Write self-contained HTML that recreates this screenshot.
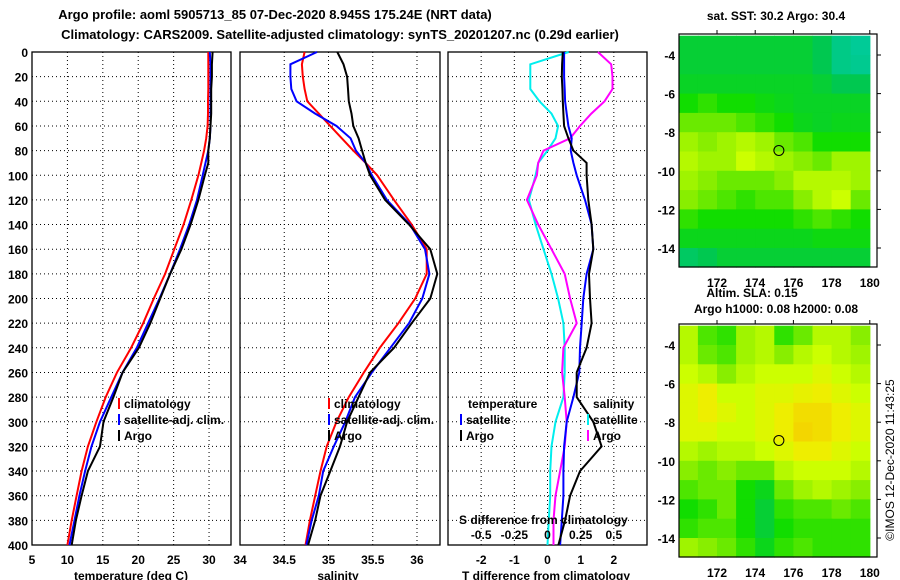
<!DOCTYPE html>
<html><head><meta charset="utf-8">
<style>
html,body{margin:0;padding:0;background:#fff;}
svg{display:block;font-family:"Liberation Sans",sans-serif;font-weight:bold;}
</style></head>
<body>
<svg id="c" width="900" height="580" viewBox="0 0 900 580" xmlns="http://www.w3.org/2000/svg">
<text x="275" y="19" font-size="13" text-anchor="middle">Argo profile: aoml 5905713_85 07-Dec-2020 8.945S 175.24E (NRT data)</text>
<text x="340" y="39" font-size="13" text-anchor="middle">Climatology: CARS2009. Satellite-adjusted climatology: synTS_20201207.nc (0.29d earlier)</text>
<text x="776" y="20" font-size="12" text-anchor="middle">sat. SST: 30.2 Argo: 30.4</text>
<text x="752" y="297" font-size="12" text-anchor="middle">Altim. SLA: 0.15</text>
<text x="776" y="313" font-size="12" text-anchor="middle">Argo h1000: 0.08 h2000: 0.08</text>
<text transform="translate(894,460) rotate(-90)" font-size="12" font-weight="normal" text-anchor="middle">©IMOS 12-Dec-2020 11:43:25</text>
</svg>
<script>
// depth levels (dbar)
const depths=[0,10,20,30,40,50,60,70,80,90,100,120,140,160,180,200,220,240,260,280,300,320,340,360,380,400];
const tempClim=[29.9,29.9,29.9,29.9,29.85,29.85,29.8,29.6,29.3,28.9,28.5,27.5,26.4,25.1,23.8,22.2,20.7,19.0,17.0,15.4,14.1,12.9,12.0,11.3,10.6,10.0];
const tempSat=[30.1,30.2,30.2,30.2,30.2,30.2,30.2,30.1,29.9,29.5,29.1,28.3,27.2,25.9,24.5,23.0,21.4,19.8,17.8,16.2,14.6,13.4,12.5,11.7,11.0,10.3];
const tempArgo=[30.5,30.4,30.4,30.3,30.3,30.3,30.2,30.1,29.9,29.9,29.4,28.5,27.4,26.1,24.5,23.1,21.7,20.1,17.8,16.5,15.1,14.6,12.9,12.0,11.2,10.6];
const salClim=[34.73,34.70,34.71,34.73,34.76,34.89,35.02,35.15,35.28,35.42,35.55,35.74,35.94,36.11,36.11,35.98,35.79,35.58,35.40,35.23,35.09,34.98,34.91,34.85,34.79,34.74];
const salSat=[34.87,34.57,34.57,34.58,34.64,34.85,35.09,35.25,35.31,35.42,35.49,35.66,35.92,36.09,36.14,36.06,35.91,35.70,35.49,35.30,35.19,35.06,34.94,34.89,34.81,34.75];
const salArgo=[35.10,35.17,35.21,35.22,35.23,35.26,35.28,35.34,35.38,35.42,35.47,35.64,35.91,36.15,36.23,36.15,35.94,35.74,35.47,35.34,35.21,35.13,35.02,34.91,34.85,34.77];
// differences (T in deg C; S on its own axis)
const dTSat=[0.5,0.5,0.5,0.52,0.53,0.58,0.63,0.73,0.7,0.78,0.88,1.13,1.33,1.38,1.18,1.08,1.03,0.98,0.96,0.78,0.58,0.5,0.48,0.48,0.43,0.38];
const dTArgo=[0.46,0.44,0.43,0.45,0.46,0.48,0.5,0.63,0.78,1.18,1.18,1.23,1.33,1.38,1.25,1.28,1.33,1.18,0.88,0.88,1.38,1.63,0.98,0.68,0.53,0.33];
const dSSat=[0.16,-0.13,-0.13,-0.13,-0.06,0.03,0.08,0.06,0.0,-0.07,-0.09,-0.14,-0.09,-0.03,0.03,0.08,0.12,0.13,0.13,0.12,0.06,0.03,0.02,0.02,0.01,0.0];
const dSArgo=[0.38,0.48,0.49,0.49,0.43,0.33,0.245,0.17,-0.03,-0.07,-0.08,-0.155,-0.07,0.03,0.13,0.17,0.22,0.12,0.11,0.13,0.145,0.13,0.095,0.06,0.045,0.045];
const depthTicks=[0,20,40,60,80,100,120,140,160,180,200,220,240,260,280,300,320,340,360,380,400];
const tempTicks=[5,10,15,20,25,30];
const salTicks=[34,34.5,35,35.5,36];
const dTTicks=[-2,-1,0,1,2];
const dSTicks=[-0.5,-0.25,0,0.25,0.5];
const dSLabels=["-0.5","-0.25","0","0.25","0.5"];
// map grids (normalized 0..1 colour index), rows lat -3..-15, cols lon 170..180
const sstGrid=[
[.35,.35,.35,.35,.35,.35,.35,.3,.15,.1],
[.35,.35,.35,.35,.35,.35,.35,.3,.15,.12],
[.38,.38,.38,.38,.38,.38,.38,.35,.3,.3],
[.45,.5,.45,.45,.42,.4,.38,.38,.38,.38],
[.6,.6,.6,.55,.5,.45,.4,.38,.4,.4],
[.7,.65,.7,.75,.7,.6,.55,.45,.45,.45],
[.75,.7,.7,.8,.75,.7,.65,.6,.7,.7],
[.7,.65,.6,.6,.6,.65,.75,.75,.75,.7],
[.65,.6,.55,.5,.55,.55,.65,.75,.8,.6],
[.5,.45,.45,.45,.45,.45,.5,.55,.5,.45],
[.4,.4,.4,.4,.4,.4,.4,.42,.42,.42],
[.25,.3,.35,.35,.35,.35,.35,.35,.35,.35]];
const slaGrid=[
[.75,.55,.5,.7,.75,.5,.6,.75,.75,.65],
[.75,.6,.55,.7,.75,.65,.75,.8,.75,.7],
[.8,.75,.65,.75,.8,.8,.8,.85,.8,.75],
[.85,.9,.8,.8,.85,.85,.88,.9,.85,.8],
[.85,.9,.85,.8,.85,.9,.95,.95,.9,.85],
[.85,.85,.8,.8,.85,.9,.97,.95,.9,.85],
[.75,.7,.75,.75,.8,.85,.9,.9,.85,.8],
[.65,.6,.65,.6,.6,.75,.8,.8,.8,.75],
[.55,.6,.6,.45,.4,.6,.7,.75,.7,.65],
[.45,.5,.6,.45,.35,.5,.55,.55,.6,.55],
[.5,.55,.55,.45,.35,.45,.5,.5,.5,.5],
[.7,.65,.6,.5,.4,.5,.55,.5,.5,.5]];
const lonTicks=[172,174,176,178,180];
const latTicks=[-4,-6,-8,-10,-12,-14];
const argoLon=175.24, argoLat=-8.945;

const svg=document.getElementById('c');
const NS='http://www.w3.org/2000/svg';
function mk(tag,attrs,parent){const e=document.createElementNS(NS,tag);for(const k in attrs)e.setAttribute(k,attrs[k]);(parent||svg).appendChild(e);return e;}
function txt(x,y,s,size,anchor,parent){const t=mk('text',{x:x,y:y,'font-size':size,'text-anchor':anchor||'middle'},parent);t.textContent=s;return t;}

const Y0=52,Y1=545;
const yD=d=>Y0+(d/400)*(Y1-Y0);
const panels=[
 {x0:32,x1:231,min:5,max:33.1,ticks:tempTicks,name:'temperature'},
 {x0:240,x1:440,min:34,max:36.26,ticks:salTicks,name:'salinity'},
 {x0:448,x1:647,min:-3,max:3,ticks:dTTicks,name:'difference'}];
panels.forEach(p=>{p.f=v=>p.x0+(v-p.min)/(p.max-p.min)*(p.x1-p.x0);});
const xS=v=>panels[2].f(v*4);

panels.forEach((p,i)=>{
  const g=mk('g',{});
  
  
  depthTicks.forEach(d=>{if(d>0&&d<400){const l=mk('line',{x1:p.x0,x2:p.x1,y1:yD(d),y2:yD(d),stroke:'#000','stroke-width':1,'stroke-dasharray':'1,3'},g);}});
  p.ticks.forEach(v=>{const x=p.f(v);if(x>p.x0+1&&x<p.x1-1){const l=mk('line',{x1:x,x2:x,y1:Y0,y2:Y1,stroke:'#000','stroke-width':1,'stroke-dasharray':'1,3'},g);}
    const t=txt(x,564,String(v),12,'middle',g);});
  const r=mk('rect',{x:p.x0,y:Y0,width:p.x1-p.x0,height:Y1-Y0,fill:'none',stroke:'#000','stroke-width':1.3},g);
  
});
depthTicks.forEach(d=>{const t=txt(28,yD(d)+5,String(d),12,'end');});

function line(xs,fx,color,name){
  const pts=depths.map((d,i)=>fx(xs[i]).toFixed(1)+','+yD(d).toFixed(1)).join(' ');
  const pl=mk('polyline',{points:pts,fill:'none',stroke:color,'stroke-width':2});
  
  
}
line(tempClim,panels[0].f,'#ff0000','temp-climatology-line');
line(tempSat,panels[0].f,'#0000ff','temp-satellite-line');
line(tempArgo,panels[0].f,'#000000','temp-argo-line');
line(salClim,panels[1].f,'#ff0000','sal-climatology-line');
line(salSat,panels[1].f,'#0000ff','sal-satellite-line');
line(salArgo,panels[1].f,'#000000','sal-argo-line');
line(dSSat,xS,'#00eeee','sdiff-satellite-line');
line(dSArgo,xS,'#ff00ff','sdiff-argo-line');
line(dTSat,panels[2].f,'#0000ff','tdiff-satellite-line');
line(dTArgo,panels[2].f,'#000000','tdiff-argo-line');

function legend(x,y,color,label,name){
  const g=mk('g',{});
  
  
  if(color)mk('rect',{x:x,y:y-10,width:2,height:11,fill:color},g);
  txt(x+6,y,label,12,'start',g);
}
legend(118,408,'#ff0000','climatology','legend-temp-climatology');
legend(118,424,'#0000ff','satellite-adj. clim.','legend-temp-satellite');
legend(118,440,'#000000','Argo','legend-temp-argo');
legend(328,408,'#ff0000','climatology','legend-sal-climatology');
legend(328,424,'#0000ff','satellite-adj. clim.','legend-sal-satellite');
legend(328,440,'#000000','Argo','legend-sal-argo');
legend(462,408,null,'temperature','legend-temp-heading');
legend(460,424,'#0000ff','satellite','legend-tdiff-satellite');
legend(460,440,'#000000','Argo','legend-tdiff-argo');
legend(587,408,null,'salinity','legend-sal-heading');
legend(587,424,'#00eeee','satellite','legend-sdiff-satellite');
legend(587,440,'#ff00ff','Argo','legend-sdiff-argo');
let t=txt(459,524,'S difference from climatology',12,'start');
dSTicks.forEach((v,i)=>{const tt=txt(xS(v),539,dSLabels[i],12,'middle');});
t=txt(131,580,'temperature (deg C)',12);
t=txt(338,580,'salinity',12);
t=txt(546,580,'T difference from climatology',12);

// maps
const stops=[[0,[0,204,187]],[0.3,[0,200,80]],[0.45,[17,221,0]],[0.65,[136,238,0]],[0.8,[204,255,0]],[0.9,[238,238,0]],[1,[245,204,0]]];
function cmap(v){for(let i=1;i<stops.length;i++){if(v<=stops[i][0]){const a=stops[i-1],b=stops[i],t=(v-a[0])/(b[0]-a[0]);return 'rgb('+a[1].map((c,k)=>Math.round(c+(b[1][k]-c)*t)).join(',')+')';}}return 'rgb(245,204,0)';}
function drawMap(grid,top,name,labelY){
  const fx=lon=>717+(lon-172)*19.1;
  const fy=lat=>top+21+(-4-lat)*19.3;
  const g=mk('g',{});
  
  
  grid.forEach((row,r)=>row.forEach((v,c)=>{
    const x0=fx(170+c),x1=Math.min(fx(171+c),871);
    const y0=Math.max(fy(-3-r),top),y1=Math.min(fy(-4-r),top+233);
    const cell=mk('rect',{x:x0.toFixed(1),y:y0.toFixed(1),width:(x1-x0+0.6).toFixed(1),height:(y1-y0+0.6).toFixed(1),fill:cmap(v)},g);
    
    
  }));
  mk('rect',{x:679,y:top,width:198,height:233,fill:'none',stroke:'#000','stroke-width':1.2},g);
  lonTicks.forEach(l=>{mk('line',{x1:fx(l),x2:fx(l),y1:top,y2:top-4,stroke:'#000'},g);const tt=txt(fx(l),labelY,String(l),12,'middle',g);});
  latTicks.forEach(l=>{mk('line',{x1:877,x2:881,y1:fy(l),y2:fy(l),stroke:'#000'},g);const tt=txt(675,fy(l)+5,String(l),12,'end',g);});
  const m=mk('circle',{cx:fx(argoLon),cy:fy(argoLat),r:5,fill:'none',stroke:'#000','stroke-width':1},g);
  
  
}
drawMap(sstGrid,34,'sst-map',287);
drawMap(slaGrid,324,'sla-map',577);
</script>
</body></html>
